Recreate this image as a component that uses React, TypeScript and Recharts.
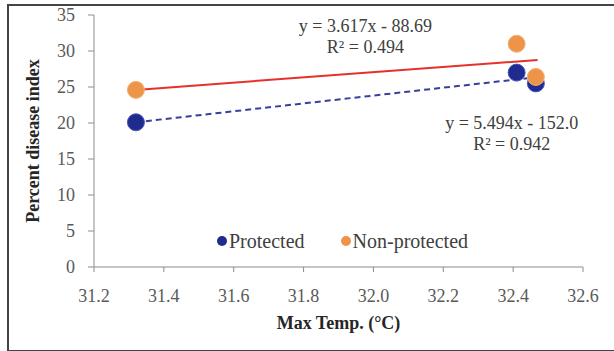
import React from 'react';
import {
  ComposedChart, XAxis, YAxis, Scatter, Line, ReferenceDot, Label,
} from 'recharts';

const protectedPts = [
  { x: 31.32, y: 20.1 },
  { x: 32.41, y: 27.0 },
  { x: 32.465, y: 25.5 },
];
const nonProtectedPts = [
  { x: 31.32, y: 24.6 },
  { x: 32.41, y: 31.0 },
  { x: 32.465, y: 26.4 },
];
const protectedTrend = [
  { x: 31.32, y: 20.1 },
  { x: 32.465, y: 26.35 },
];
const nonProtectedTrend = [
  { x: 31.32, y: 24.6 },
  { x: 32.47, y: 28.75 },
];
const xTicks = [31.2, 31.4, 31.6, 31.8, 32.0, 32.2, 32.4, 32.6];
const yTicks = [0, 5, 10, 15, 20, 25, 30, 35];
const eqNonProtected = ['y = 3.617x - 88.69', 'R² = 0.494'];
const eqProtected = ['y = 5.494x - 152.0', 'R² = 0.942'];
const seriesNames = ['Protected', 'Non-protected'];

const FONT = '"Liberation Serif", "Times New Roman", serif';
const BLUE = '#1f2b8f';
const ORANGE = '#ee9448';
const RED = '#e5312b';
const DASH = '#3a3f9c';
const TXT = '#404040';
const AX = '#8c8c8c';

const Dot = (color: string, edge: string) => (props: any) => {
  const { cx, cy } = props;
  if (cx == null || cy == null) return <g />;
  return <circle cx={cx} cy={cy} r={8.5} fill={color} stroke={edge} strokeWidth={1} />;
};

const LegendBox = () => (
  <div style={{ position: 'absolute', left: 217, top: 228, display: 'flex', alignItems: 'center', fontFamily: FONT, fontSize: 20, lineHeight: '26px', color: TXT, whiteSpace: 'nowrap' }}>
    <span style={{ display: 'inline-block', width: 10, height: 10, borderRadius: 5, background: BLUE, marginRight: 2 }} />
    <span>{seriesNames[0]}</span>
    <span style={{ display: 'inline-block', width: 10, height: 10, borderRadius: 5, background: ORANGE, marginLeft: 36, marginRight: 2 }} />
    <span>{seriesNames[1]}</span>
  </div>
);

const textLabel = (value: string) => (
  <Label value={value} position="center" fill={TXT} fontSize={18} style={{ fontFamily: FONT }} />
);

const tickStyle = { fill: '#595959', fontSize: 18, fontFamily: FONT, style: { fontFamily: FONT } };

export default function App() {
  return (
    <div style={{ position: 'absolute', left: 0, top: 0, width: 614, height: 351, background: '#fff', overflow: 'hidden' }}>
      <div style={{ position: 'absolute', left: 7, top: 4, width: 640, height: 344, border: '2px solid #444', boxSizing: 'content-box' }} />
      <div style={{ position: 'absolute', left: 0, top: 0 }}>
        <ComposedChart width={614} height={351} margin={{ top: 15, right: 31, bottom: 0, left: 0 }}>
          <XAxis
            type="number"
            dataKey="x"
            domain={[31.2, 32.6]}
            ticks={xTicks}
            allowDataOverflow
            tickFormatter={(v: number) => v.toFixed(1)}
            height={84}
            stroke={AX}
            tickSize={5}
            tickMargin={17}
            tick={tickStyle}
            label={{
              content: (p: any) => {
                const vb = p.viewBox;
                return (
                  <text x={vb.x + vb.width / 2} y={323} textAnchor="middle" dominantBaseline="central"
                    style={{ fontFamily: FONT }} fontSize={18} fontWeight="bold" fill="#262626">Max Temp. (°C)</text>
                );
              },
            }}
          />
          <YAxis
            type="number"
            dataKey="y"
            domain={[0, 35]}
            ticks={yTicks}
            width={94}
            stroke={AX}
            tickSize={6}
            tickMargin={13}
            tick={tickStyle}
            label={{
              content: (p: any) => {
                const vb = p.viewBox;
                const cy = vb.y + vb.height / 2;
                return (
                  <text x={33} y={cy} transform={`rotate(-90, 33, ${cy})`} textAnchor="middle" dominantBaseline="central"
                    style={{ fontFamily: FONT }} fontSize={18} fontWeight="bold" fill="#262626">Percent disease index</text>
                );
              },
            }}
          />
          <Scatter name={seriesNames[0]} data={protectedPts} fill={BLUE} shape={Dot(BLUE, '#4a56b8')} isAnimationActive={false} />
          <Scatter name={seriesNames[1]} data={nonProtectedPts} fill={ORANGE} shape={Dot(ORANGE, '#f3b07a')} isAnimationActive={false} />
          <Line data={nonProtectedTrend} dataKey="y" stroke={RED} strokeWidth={2} dot={false} activeDot={false} isAnimationActive={false} legendType="none" />
          <Line data={protectedTrend} dataKey="y" stroke={DASH} strokeWidth={2} strokeDasharray="6 4" dot={false} activeDot={false} isAnimationActive={false} legendType="none" />
          <ReferenceDot x={31.977} y={33.5} r={0} ifOverflow="visible">{textLabel(eqNonProtected[0])}</ReferenceDot>
          <ReferenceDot x={31.977} y={30.6} r={0} ifOverflow="visible">{textLabel(eqNonProtected[1])}</ReferenceDot>
          <ReferenceDot x={32.396} y={20.0} r={0} ifOverflow="visible">{textLabel(eqProtected[0])}</ReferenceDot>
          <ReferenceDot x={32.396} y={17.1} r={0} ifOverflow="visible">{textLabel(eqProtected[1])}</ReferenceDot>
        </ComposedChart>
      </div>
      <LegendBox />
    </div>
  );
}
